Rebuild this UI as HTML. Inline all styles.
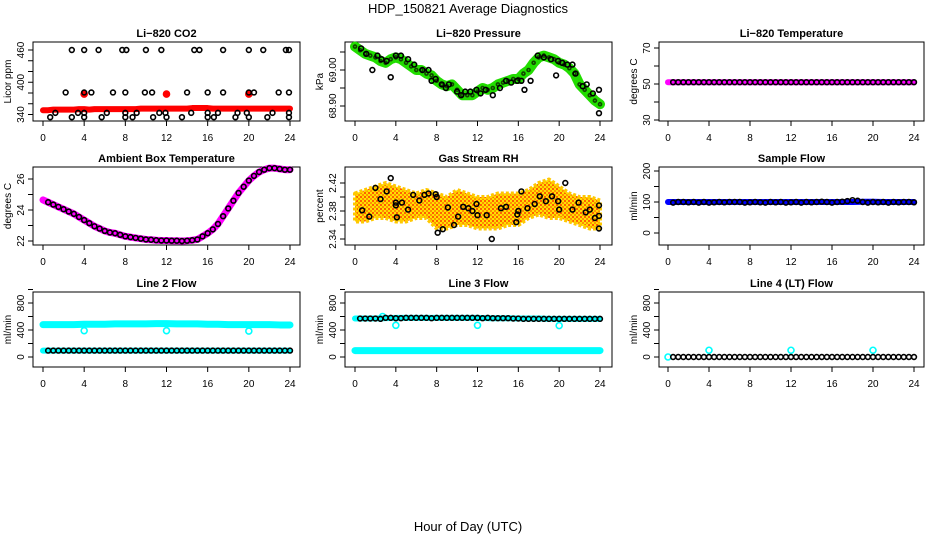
<!DOCTYPE html>
<html><head><meta charset="utf-8"><style>
html,body{margin:0;padding:0;background:#fff;}
svg{display:block;font-family:"Liberation Sans",sans-serif;}
</style></head><body>
<svg id="chart" width="936" height="540" viewBox="0 0 936 540">
<defs>
<pattern id="rhpat" width="4" height="4" patternUnits="userSpaceOnUse">
<rect width="4" height="4" fill="#ffe000"/>
<rect width="2" height="2" fill="#ff6000"/>
<rect x="2" y="2" width="2" height="2" fill="#ff9000"/>
</pattern>
</defs>
<text x="468" y="13" text-anchor="middle" font-size="13">HDP_150821  Average Diagnostics</text>
<text x="468" y="531" text-anchor="middle" font-size="13">Hour of Day (UTC)</text>
</svg>
<script>
// ---------- data ----------
const hourTicks = [0,4,8,12,16,20,24];
const halfHours = Array.from({length:49},(_, i)=>i/2);
const hours = Array.from({length:25},(_, i)=>i);

const co2Red = [348,348,349,349,349,349,349,350,350,349,350,350,350,350,350,350,350,350,350,351,351,351,351,351,351,351,351,351,351,352,352,352,352,351,351,351,351,351,351,351,351,351,351,351,351,351,351,351,351];
const co2RedOutH = [4,12,20];
const co2RedOutV = [378,378,378];
const co2BlkH = [2.8,4,5.4,7.7,8.1,10,11.5,14.7,15.2,17.5,20,21.4,23.6,23.9, 2.2,4,4.7,6.8,8,9.9,10.6,14,16,17.5,20,20.5,22.9,23.9, 1.2,3.4,4,6.2,8,9.1,11.3,11.9,14.4,16,17,18.9,19.8,22.3,23.9, 0.7,2.8,4,5.7,8,8.7,10.7,12,13.5,16,16.6,18.7,20,21.8,23.9];
const co2BlkV = [460,460,460,460,460,460,460,460,460,460,460,460,460,460, 381,381,381,381,381,381,381,381,381,381,381,381,381,381, 343,343,343,343,343,343,343,343,343,343,343,343,343,343,343, 335,335,335,335,335,335,335,335,335,335,335,335,335,335,335];

const presGreen = [69.065,69.055,69.045,69.04,69.035,69.025,69.02,69.03,69.035,69.03,69.02,69.01,69.0,69.0,68.99,68.985,68.97,68.96,68.955,68.96,68.945,68.93,68.93,68.93,68.94,68.95,68.945,68.95,68.96,68.965,68.97,68.975,68.975,68.99,69.0,69.02,69.035,69.04,69.035,69.03,69.02,69.015,69.005,68.99,68.96,68.945,68.93,68.915,68.905];
const presBlkH = [0.6,1.1,1.7,2.2,2.6,3.1,3.5,4,4.5,5.2,5.8,6.6,7.2,7.5,7.9,8.5,8.9,9.2,10,10.4,10.8,11.3,11.9,12.3,12.8,13.5,14.2,14.8,15.3,15.9,16.3,16.6,17.2,17.9,18.5,19.2,19.7,19.9,20.3,20.8,21.3,21.6,22.3,22.7,23.3,23.9,23.9];
const presBlkV = [69.06,69.045,69.0,69.04,69.03,69.025,68.98,69.04,69.04,69.03,69.015,69.0,69.0,68.97,68.975,68.96,68.95,68.96,68.94,68.93,68.94,68.94,68.945,68.935,68.945,68.93,68.95,68.97,68.965,68.97,68.97,68.945,68.97,69.04,69.035,69.03,68.985,69.025,69.02,69.015,69.015,68.99,68.955,68.96,68.935,68.945,68.88];

const liTempMag = [51,51,51,51,51,51,51,51,51,51,51,51,51,51,51,51,51,51,51,51,51,51,51,51,51];
const liTempBlk = [51,51,51,51,51,51,51,51,51,51,51,51,51,51,51,51,51,51,51,51,51,51,51,51,51,51,51,51,51,51,51,51,51,51,51,51,51,51,51,51,51,51,51,51,51,51,51,51,51];

const ambMag = [24.65,24.5,24.35,24.2,24.05,23.9,23.75,23.55,23.35,23.15,22.95,22.8,22.65,22.55,22.5,22.4,22.3,22.25,22.2,22.15,22.1,22.08,22.05,22.03,22.03,22.02,22.02,22.0,22.02,22.05,22.1,22.3,22.5,22.75,23.1,23.6,24.1,24.6,25.1,25.5,25.9,26.2,26.45,26.6,26.7,26.7,26.65,26.6,26.6];

const rhUpper = [2.405,2.41,2.415,2.42,2.415,2.41,2.405,2.41,2.405,2.40,2.41,2.405,2.40,2.40,2.405,2.405,2.405,2.41,2.42,2.425,2.415,2.405,2.40,2.40,2.395];
const rhLower = [2.365,2.365,2.37,2.37,2.365,2.365,2.37,2.37,2.355,2.355,2.36,2.36,2.355,2.355,2.355,2.36,2.36,2.37,2.375,2.37,2.37,2.365,2.36,2.355,2.355];
const rhBlkH = [0.7,1.4,2,2.5,3.1,3.5,4,4,4.1,4.6,5.2,5.7,6.3,6.8,7.2,7.9,8,8.1,8.6,9.1,9.7,10.1,10.6,11.1,11.5,11.9,12,12.9,13.4,14.3,14.8,15.8,15.9,16,16.3,16.9,17.6,18.1,18.7,19.3,19.9,20,20.6,21.3,21.9,22.6,23,23.5,23.9,23.9,23.9];
const rhBlkV = [2.381,2.372,2.413,2.397,2.408,2.427,2.388,2.392,2.371,2.392,2.382,2.403,2.395,2.403,2.405,2.404,2.400,2.349,2.354,2.385,2.360,2.372,2.386,2.384,2.380,2.390,2.374,2.374,2.340,2.384,2.386,2.364,2.375,2.380,2.408,2.384,2.390,2.401,2.394,2.401,2.394,2.382,2.420,2.382,2.392,2.378,2.382,2.370,2.388,2.373,2.355];

const sampBlue = [100,100,100,100,100,100,100,100,100,100,100,100,100,100,100,100,100,100,100,101,101,100,100,100,100];
const sampBlk = [100,98,100,100,99,100,98,100,98,99,100,99,100,100,100,98,99,100,99,98,100,99,100,98,99,100,98,100,99,100,101,100,98,100,101,103,106,104,100,98,100,99,100,98,100,99,100,100,99];

const l2Upper = [480,480,480,480,485,485,485,490,490,490,490,495,495,490,490,490,485,485,480,480,480,480,480,475,475];
const l2Lower = [95,95,95,95,95,95,95,95,95,95,95,95,95,95,95,95,95,95,95,95,95,95,95,95,95];
const l2Blk = [95,95,95,95,95,95,95,95,95,95,95,95,95,95,95,95,95,95,95,95,95,95,95,95,95,95,95,95,95,95,95,95,95,95,95,95,95,95,95,95,95,95,95,95,95,95,95,95,95];
const l2OutH = [4,12,20];
const l2OutV = [390,390,385];

const l3Cyan = [570,570,570,575,580,580,580,580,580,580,580,580,580,575,575,575,570,570,570,565,565,565,565,565,565];
const l3Low = [95,95,95,95,95,95,95,95,95,95,95,95,95,95,95,95,95,95,95,95,95,95,95,95,95];
const l3Blk = [570,570,570,570,570,565,580,580,575,575,580,580,580,580,580,575,580,580,580,580,580,580,580,580,580,575,580,575,575,575,575,570,570,565,565,565,565,565,565,565,565,565,565,565,565,565,565,565,565];
const l3OutH = [2.7,4,12,20];
const l3OutV = [600,470,470,465];

const l4Blk = [0,0,0,0,0,0,0,0,0,0,0,0,0,0,0,0,0,0,0,0,0,0,0,0,0,0,0,0,0,0,0,0,0,0,0,0,0,0,0,0,0,0,0,0,0,0,0,0,0];
const l4OutH = [0,4,12,20];
const l4OutV = [0,100,100,100];

// ---------- drawing ----------
const NS='http://www.w3.org/2000/svg';
const svg=document.getElementById('chart');
function mk(tag,attrs,parent){const e=document.createElementNS(NS,tag);for(const k in attrs)e.setAttribute(k,attrs[k]);(parent||svg).appendChild(e);return e;}

const cols=[{bl:33,br:300,x0:43,x24:290},{bl:345,br:612,x0:355,x24:600},{bl:659,br:924,x0:668,x24:914}];
const rows=[{bt:42,bb:121},{bt:167,bb:245},{bt:292,bb:367}];

function panel(r,c,title,slug,ytitle,ticks,labels,yref){
  const C=cols[c],R=rows[r];
  const g=mk('g',{});
  
  
  const x=h=>C.x0+h*(C.x24-C.x0)/24;
  const y=v=>yref[1]+(v-yref[0])*(yref[3]-yref[1])/(yref[2]-yref[0]);
  const t=mk('text',{x:(C.bl+C.br)/2,y:R.bt-5,'text-anchor':'middle','font-size':11,'font-weight':'bold'},g);
  t.textContent=title;
  
  
  const box=mk('rect',{x:C.bl,y:R.bt,width:C.br-C.bl,height:R.bb-R.bt,fill:'none',stroke:'#000','stroke-width':1},g);
  
  
  const xa=mk('g',{},g);
  
  
  hourTicks.forEach(h=>{
    mk('line',{x1:x(h),x2:x(h),y1:R.bb,y2:R.bb+5,stroke:'#000'},xa);
    const l=mk('text',{x:x(h),y:R.bb+20,'text-anchor':'middle','font-size':10},xa);
    l.textContent=h;
  });
  const ya=mk('g',{},g);
  
  
  ticks.forEach(v=>{
    mk('line',{x1:C.bl-5,x2:C.bl,y1:y(v),y2:y(v),stroke:'#000'},ya);
  });
  labels.forEach(v=>{
    const l=mk('text',{x:C.bl-9,y:y(v),'text-anchor':'middle','font-size':10,transform:`rotate(-90 ${C.bl-9} ${y(v)})`},ya);
    l.textContent=v;
  });
  const yt=mk('text',{x:C.bl-22,y:(R.bt+R.bb)/2,'text-anchor':'middle','font-size':10,transform:`rotate(-90 ${C.bl-22} ${(R.bt+R.bb)/2})`},g);
  yt.textContent=ytitle;
  
  
  const s=mk('g',{},g);
  
  
  return {x,y,g:s};
}
function pts(P,hs,vs,color,filled,r){
  vs.forEach((v,i)=>{
    const c=mk('circle',{cx:P.x(hs[i]),cy:P.y(v),r:r||2.4,fill:filled?color:'none',stroke:color,'stroke-width':1.6},P.g);
    
    
  });
}
function band(P,hs,vs,color,w){
  const p=mk('polyline',{points:vs.map((v,i)=>P.x(hs[i])+','+P.y(v)).join(' '),fill:'none',stroke:color,'stroke-width':w,'stroke-linejoin':'round','stroke-linecap':'round'},P.g);
  
  
}
function area(P,hs,up,lo,color){
  const a=up.map((v,i)=>P.x(hs[i])+','+P.y(v));
  const b=lo.map((v,i)=>P.x(hs[i])+','+P.y(v)).reverse();
  const p=mk('polygon',{points:a.concat(b).join(' '),fill:color,stroke:'#ffc800','stroke-width':4,'stroke-linejoin':'round','stroke-dasharray':'3 2'},P.g);
  
  
}

// Row 1
let P=panel(0,0,'Li−820 CO2','co2','Licor ppm',[340,360,380,400,420,440,460],[340,400,460],[340,114.5,460,50]);
band(P,halfHours,co2Red,'#ff0000',6);
pts(P,co2RedOutH,co2RedOutV,'#ff0000',true,3);
pts(P,co2BlkH,co2BlkV,'#000',false);

P=panel(0,1,'Li−820 Pressure','pressure','kPa',[68.90,68.95,69.00,69.05],['68.90','69.00'],[68.90,106,69.00,70]);
band(P,halfHours,presGreen,'#22dd00',10);
pts(P,halfHours,presGreen,'#114400',false,1.5);
pts(P,presBlkH,presBlkV,'#000',false);

P=panel(0,2,'Li−820 Temperature','li-temp','degrees C',[30,40,50,60,70],[30,50,70],[30,120,70,48]);
band(P,hours,liTempMag,'#ff00ff',6);
pts(P,halfHours.slice(1),liTempBlk.slice(1),'#000',false);

// Row 2
P=panel(1,0,'Ambient Box Temperature','ambient','degrees C',[22,23,24,25,26],[22,24,26],[22,241,26,179]);
band(P,halfHours,ambMag,'#ff00ff',7);
pts(P,halfHours.slice(1),ambMag.slice(1),'#000',false);

P=panel(1,1,'Gas Stream RH','rh','percent',[2.34,2.36,2.38,2.40,2.42],['2.34','2.38','2.42'],[2.34,239,2.42,183]);
area(P,hours,rhUpper,rhLower,'url(#rhpat)');
pts(P,rhBlkH,rhBlkV,'#000',false);

P=panel(1,2,'Sample Flow','sample-flow','ml/min',[0,50,100,150,200],[0,100,200],[0,233,200,171]);
band(P,hours,sampBlue,'#0000ff',6);
pts(P,halfHours.slice(1),sampBlk.slice(1),'#000',false);

// Row 3
P=panel(2,0,'Line 2 Flow','line2','ml/min',[0,200,400,600,800,1000],[0,400,800],[0,357,800,303]);
band(P,hours,l2Upper,'#00ffff',7);
band(P,hours,l2Lower,'#00ffff',6);
pts(P,l2OutH,l2OutV,'#00ffff',false,3);
pts(P,halfHours.slice(1),l2Blk.slice(1),'#000',false);

P=panel(2,1,'Line 3 Flow','line3','ml/min',[0,200,400,600,800,1000],[0,400,800],[0,357,800,303]);
band(P,hours,l3Cyan,'#00ffff',6);
band(P,hours,l3Low,'#00ffff',7);
pts(P,l3OutH,l3OutV,'#00ffff',false,3);
pts(P,halfHours.slice(1),l3Blk.slice(1),'#000',false);

P=panel(2,2,'Line 4 (LT) Flow','line4','ml/min',[0,200,400,600,800,1000],[0,400,800],[0,357,800,303]);
pts(P,l4OutH,l4OutV,'#00ffff',false,3);
pts(P,halfHours.slice(1),l4Blk.slice(1),'#000',false);
</script>
</body></html>
